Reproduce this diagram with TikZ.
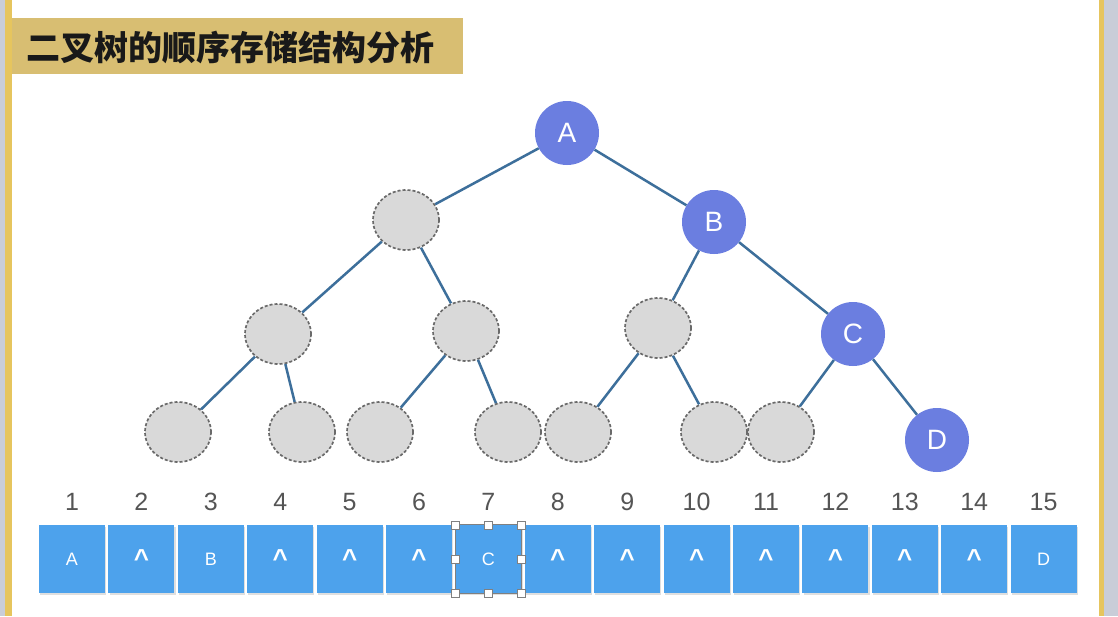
\documentclass[tikz,border=0pt]{standalone}
\usepackage{fontspec}
\setmainfont{Liberation Sans}
\newfontfamily\cjk{Noto Sans CJK SC}
\usetikzlibrary{shapes.geometric,shadows}
\definecolor{gold}{HTML}{D8BE72}
\definecolor{edgeyel}{HTML}{E6C55E}
\definecolor{sidegray}{HTML}{C9CDD8}
\definecolor{nodeblue}{HTML}{6B7EE0}
\definecolor{boxblue}{HTML}{4DA2EC}
\definecolor{edgecol}{HTML}{3D6F9B}
\definecolor{grayfill}{HTML}{D9D9D9}
\definecolor{graydash}{HTML}{6A6A6A}
\definecolor{numgray}{HTML}{555555}
\newcommand{\crt}{\raisebox{1pt}{\fontsize{26}{26}\selectfont\bfseries\textasciicircum}}
\tikzset{
  bluenode/.style={circle, fill=nodeblue, minimum size=64pt, inner sep=0pt,
    text=white, font=\fontsize{28}{28}\selectfont},
  graynode/.style={ellipse, fill=grayfill, draw=graydash, line width=1.7pt,
    dash pattern=on 3pt off 2pt, minimum width=66pt, minimum height=60pt, inner sep=0pt},
  treeedge/.style={draw=edgecol, line width=2.5pt},
  cell/.style={rectangle, fill=boxblue, minimum width=66pt, minimum height=68pt, inner sep=0pt,
    text=white, font=\fontsize{18}{18}\selectfont,
    drop shadow={shadow xshift=1.2pt, shadow yshift=-1.5pt, opacity=0.25}},
  idx/.style={text=numgray, font=\fontsize{25}{25}\selectfont, inner sep=0pt},
  handle/.style={rectangle, fill=white, draw=gray, line width=0.6pt, minimum size=8pt, inner sep=0pt}
}
\begin{document}
\begin{tikzpicture}[x=1pt,y=-1pt]
\useasboundingbox (0,0) rectangle (1118,616);
\fill[white] (0,0) rectangle (1118,616);
% frame edges
\fill[sidegray] (0,0) rectangle (5,616);
\fill[edgeyel] (5,0) rectangle (12,616);
\fill[edgeyel] (1099,0) rectangle (1104,616);
\fill[sidegray] (1104,0) rectangle (1118,616);
% title
\fill[gold] (12,18) rectangle (463,74);
\node[anchor=west, inner sep=0pt, text=black!90] (title) at (26,47)
  {\cjk\bfseries\fontsize{34}{34}\selectfont 二叉树的顺序存储结构分析};
% tree nodes
\node[bluenode] (n1) at (567,133) {A};
\node[graynode] (n2) at (406,220) {};
\node[bluenode] (n3) at (714,222) {B};
\node[graynode] (n4) at (278,334) {};
\node[graynode] (n5) at (466,331) {};
\node[graynode] (n6) at (658,328) {};
\node[bluenode] (n7) at (853,334) {C};
\node[graynode] (n8) at (178,432) {};
\node[graynode] (n9) at (302,432) {};
\node[graynode] (n10) at (380,432) {};
\node[graynode] (n11) at (508,432) {};
\node[graynode] (n12) at (578,432) {};
\node[graynode] (n13) at (714,432) {};
\node[graynode] (n14) at (781,432) {};
\node[bluenode] (n15) at (937,440) {D};
% edges
\draw[treeedge] (n1) -- (n2);
\draw[treeedge] (n1) -- (n3);
\draw[treeedge] (n2) -- (n4);
\draw[treeedge] (n2) -- (n5);
\draw[treeedge] (n3) -- (n6);
\draw[treeedge] (n3) -- (n7);
\draw[treeedge] (n4) -- (n8);
\draw[treeedge] (n4) -- (n9);
\draw[treeedge] (n5) -- (n10);
\draw[treeedge] (n5) -- (n11);
\draw[treeedge] (n6) -- (n12);
\draw[treeedge] (n6) -- (n13);
\draw[treeedge] (n7) -- (n14);
\draw[treeedge] (n7) -- (n15);
% array
\foreach \i/\t in {1/A,2/\crt,3/B,4/\crt,5/\crt,6/\crt,7/C,8/\crt,9/\crt,10/\crt,11/\crt,12/\crt,13/\crt,14/\crt,15/D}{
  \pgfmathsetmacro{\cx}{72+(\i-1)*69.4}
  \node[cell] (b\i) at (\cx,559) {\t};
  \node[idx] (l\i) at (\cx,502) {\i};
}
% selection on cell 7
\draw[gray, line width=0.8pt] (b7.north west) rectangle (b7.south east);
\foreach \a in {north west,north,north east,west,east,south west,south,south east}{
  \node[handle] (h\a) at (b7.\a) {};
}
\end{tikzpicture}
\end{document}
